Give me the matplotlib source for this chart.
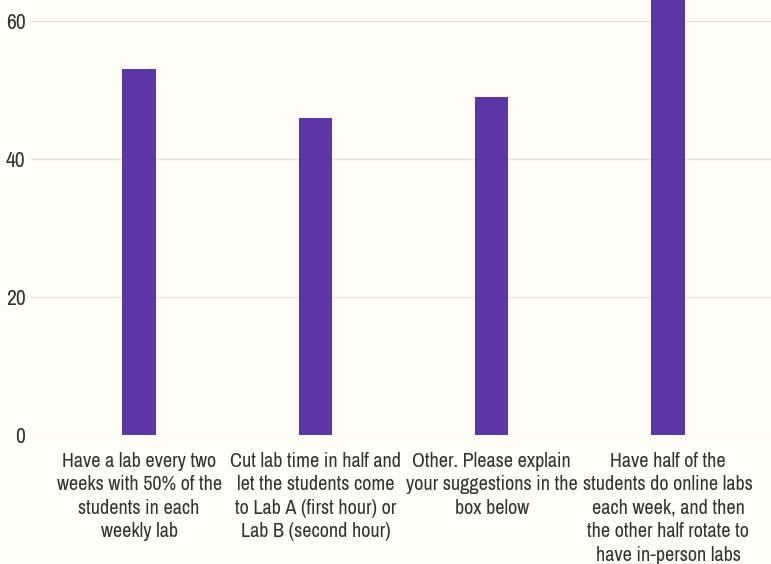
import matplotlib
matplotlib.use("Agg")
import matplotlib.pyplot as plt

categories = [
    "Have a lab every two\nweeks with 50% of the\nstudents in each\nweekly lab",
    "Cut lab time in half and\nlet the students come\nto Lab A (first hour) or\nLab B (second hour)",
    "Other. Please explain\nyour suggestions in the\nbox below",
    "Have half of the\nstudents do online labs\neach week, and then\nthe other half rotate to\nhave in-person labs",
]
counts = [53, 46, 49, 66]
yticks = [0, 20, 40, 60]

plt.rcParams['font.family'] = ['Archivo Narrow', 'Roboto Condensed', 'DejaVu Sans']

bg = "#fffdf5"
fig = plt.figure(figsize=(7.71, 5.64), dpi=100, facecolor=bg)
ax = fig.add_axes([0.0402, 0.2287, 0.9598, 0.7713])
ax.set_facecolor(bg)

x = list(range(len(categories)))
ax.bar(x, counts, width=0.19, color="#5e35a6", zorder=3)

ax.set_xlim(-0.613, 3.584)
ax.set_ylim(0, 63.04)
ax.set_yticks(yticks)
ax.set_xticks(x)
ax.set_xticklabels(categories, fontsize=14.5, color="#333333", linespacing=1.3)
ax.tick_params(axis='y', length=0, pad=4, labelsize=15.5, labelcolor="#333333")
ax.tick_params(axis='x', length=0, pad=12)
ax.grid(axis='y', color="#e6e2da", linewidth=1, zorder=0)
for s in ax.spines.values():
    s.set_visible(False)

fig.savefig("out.png", dpi=100, facecolor=bg)
